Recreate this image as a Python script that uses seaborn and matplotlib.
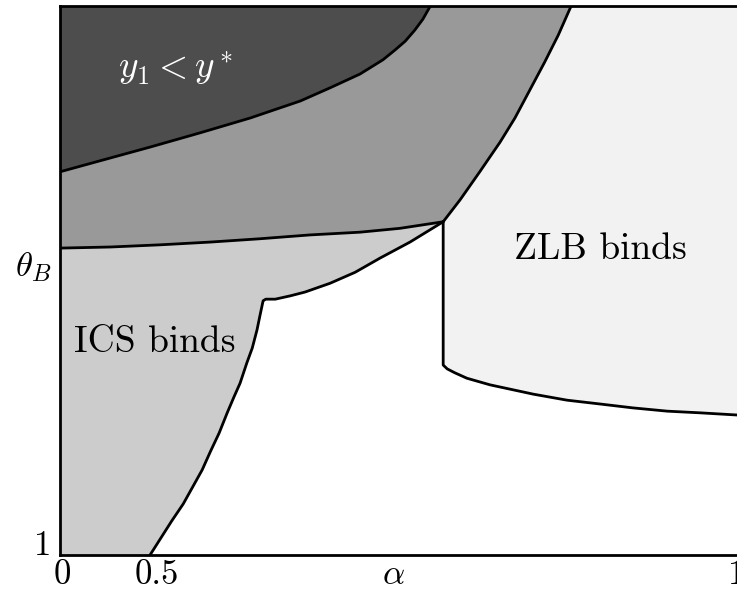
import numpy as np
import matplotlib
matplotlib.use("Agg")
import matplotlib.pyplot as plt
import seaborn as sns

# Fronteiras das regiões (eixos normalizados 0..1)
dark_x = [0.0, 0.059, 0.133, 0.207, 0.281, 0.355, 0.399, 0.443, 0.477,
          0.495, 0.510, 0.524, 0.536, 0.547]
dark_y = [0.698, 0.718, 0.743, 0.769, 0.796, 0.827, 0.851, 0.876, 0.902,
          0.920, 0.936, 0.956, 0.976, 1.0]

mid_low_x = [0.0, 0.074, 0.148, 0.222, 0.295, 0.369, 0.443, 0.502, 0.566]
mid_low_y = [0.559, 0.561, 0.565, 0.570, 0.576, 0.583, 0.588, 0.595, 0.607]

mid_right_x = [0.566, 0.591, 0.620, 0.650, 0.672, 0.694, 0.716, 0.736, 0.755]
mid_right_y = [0.607, 0.647, 0.698, 0.752, 0.796, 0.847, 0.898, 0.947, 1.0]

ics_x = [0.133, 0.149, 0.165, 0.182, 0.196, 0.210, 0.222, 0.235, 0.247,
         0.257, 0.266, 0.276, 0.284, 0.291, 0.295, 0.300, 0.304, 0.318,
         0.340, 0.362, 0.399, 0.436, 0.473, 0.517, 0.566]
ics_y = [0.0, 0.031, 0.062, 0.093, 0.124, 0.155, 0.188, 0.222, 0.259,
         0.288, 0.313, 0.350, 0.377, 0.410, 0.434, 0.463, 0.466, 0.466,
         0.472, 0.479, 0.495, 0.515, 0.541, 0.570, 0.607]

zlb_x = [0.566, 0.566, 0.572, 0.583, 0.601, 0.635, 0.699, 0.749, 0.798,
         0.846, 0.897, 0.945, 1.0]
zlb_y = [0.607, 0.346, 0.339, 0.332, 0.322, 0.310, 0.293, 0.282, 0.275,
         0.268, 0.262, 0.259, 0.255]

# Rótulos dos eixos
xtick_pos = [0.003, 0.143, 0.492, 1.0]
xtick_lab = ["0", "0.5", r"$\alpha$", "1"]
ytick_pos = [0.022, 0.532]
ytick_lab = ["1", r"$\theta_B$"]

sns.set_theme(style="white")
plt.rcParams["font.family"] = ["serif"]
plt.rcParams["font.serif"] = ["cmr10", "DejaVu Serif"]
plt.rcParams["mathtext.fontset"] = "cm"
plt.rcParams["text.color"] = "black"
plt.rcParams["xtick.color"] = "black"
plt.rcParams["ytick.color"] = "black"

fig = plt.figure(figsize=(7.37, 5.95), dpi=100)
ax = fig.add_axes([60 / 737, 40 / 595, 677 / 737, 549 / 595])

# Região cinza médio
mx = [0.0] + mid_right_x[::-1] + mid_low_x[::-1]
my = [1.0] + mid_right_y[::-1] + mid_low_y[::-1]
ax.fill(mx, my, color="#999999", lw=0, zorder=1)

# Região escura
ax.fill(dark_x + [0.0], dark_y + [1.0], color="#4d4d4d", lw=0, zorder=2)

# Região ICS
ix = mid_low_x + ics_x[::-1] + [0.0]
iy = mid_low_y + ics_y[::-1] + [0.0]
ax.fill(ix, iy, color="#cccccc", lw=0, zorder=1)

# Região ZLB
zx = mid_right_x + [1.0] + zlb_x[::-1]
zy = mid_right_y + [1.0] + zlb_y[::-1]
ax.fill(zx, zy, color="#f2f2f2", lw=0, zorder=1)

# Linhas de fronteira
for bx, by in [(dark_x, dark_y), (mid_low_x, mid_low_y),
               (mid_right_x, mid_right_y), (ics_x, ics_y), (zlb_x, zlb_y)]:
    sns.lineplot(x=bx, y=by, sort=False, estimator=None, color="black",
                 lw=2, ax=ax, zorder=3)

# Textos
ax.text(0.170, 0.887, r"$y_1 < y^*$", color="white", fontsize=27,
        ha="center", va="center")
ax.text(0.798, 0.557, "ZLB binds", color="black", fontsize=27,
        ha="center", va="center")
ax.text(0.140, 0.388, "ICS binds", color="black", fontsize=27,
        ha="center", va="center")

ax.set_xlim(0, 1)
ax.set_ylim(0, 1)
ax.set_xticks(xtick_pos)
ax.set_xticklabels(xtick_lab, fontsize=25)
ax.set_yticks(ytick_pos)
ax.set_yticklabels(ytick_lab, fontsize=25)
ax.tick_params(axis="x", length=0, pad=3)
ax.tick_params(axis="y", length=0, pad=6)
ax.set_xlabel("")
ax.set_ylabel("")

for side in ["left", "bottom", "top"]:
    ax.spines[side].set_color("black")
    ax.spines[side].set_linewidth(2)
    ax.spines[side].set_zorder(5)
ax.spines["right"].set_visible(False)

fig.savefig("out.png", dpi=100)
